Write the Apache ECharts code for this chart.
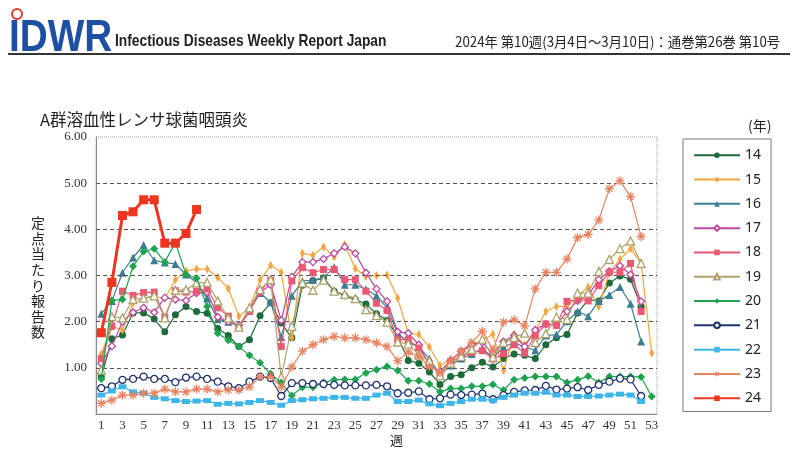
<!DOCTYPE html>
<html>
<head>
<meta charset="utf-8">
<script src="https://cdn.jsdelivr.net/npm/echarts@6/dist/echarts.min.js"></script>
<style>
  html, body { margin: 0; padding: 0; background: #fff; }
  #chart { width: 800px; height: 452px; }
</style>
</head>
<body>
<div id="chart"></div>
<script>
// week labels (x axis)
var weeks = ['1','2','3','4','5','6','7','8','9','10','11','12','13','14','15','16','17','18','19','20',
  '21','22','23','24','25','26','27','28','29','30','31','32','33','34','35','36','37','38','39','40',
  '41','42','43','44','45','46','47','48','49','50','51','52','53'];

// per-year values, reports per sentinel
var y14 = [0.80,1.63,1.71,2.19,2.19,2.06,1.78,2.15,2.33,2.22, 2.18,1.85,1.70,1.46,1.61,2.13,2.41,1.97,1.65,2.79,
  2.89,2.95,2.66,2.56,2.48,2.38,2.17,2.03,1.68,1.16, 1.10,0.91,0.64,0.81,0.85,1.00,1.12,1.02,1.20,1.30,
  1.27,1.20,1.50,1.65,1.72,2.19,2.48,2.45,2.84,2.99, 2.92,2.33];
var y15 = [1.30,1.90,1.82,2.40,2.50,2.55,2.50,2.91,3.10,3.14, 3.14,2.96,2.72,2.12,2.30,2.90,3.22,3.07,1.65,3.48,
  3.44,3.62,3.40,3.67,3.15,2.98,3.00,3.01,2.51,1.75, 1.72,1.45,1.05,1.18,1.33,1.50,1.60,1.73,0.94,1.73,
  1.50,1.80,2.22,2.33,2.33,2.55,2.75,2.33,3.06,3.35, 3.58,3.27,1.32];
var y16 = [2.17,2.45,3.06,3.39,3.66,3.33,3.28,3.25,3.02,2.85, 2.50,2.05,2.00,1.90,2.25,2.62,2.42,1.67,2.56,2.88,
  2.90,2.95,3.18,2.80,2.80,2.70,2.56,2.30,1.75,1.55, 1.45,1.20,0.85,1.05,1.20,1.30,1.42,1.22,1.45,1.55,
  1.45,1.38,1.70,1.72,2.01,2.22,2.12,2.45,2.58,2.75, 2.39,1.57];
var y17 = [1.10,1.47,2.00,2.20,2.30,2.20,2.52,2.48,2.46,2.62, 2.64,2.10,2.00,1.92,2.25,2.63,2.80,2.03,2.97,3.29,
  3.29,3.36,3.48,3.62,3.48,3.06,2.71,2.44,1.78,1.75, 1.50,1.05,0.92,1.16,1.36,1.50,1.55,1.30,1.57,1.70,
  1.46,1.82,1.95,1.93,2.22,2.45,2.57,2.91,3.09,3.21, 3.02,2.44];
var y18 = [1.20,1.90,2.66,2.57,2.63,2.64,2.10,2.67,2.64,2.66, 2.71,2.30,2.12,1.87,2.22,2.66,2.90,1.46,2.88,3.17,
  3.06,3.13,3.13,2.91,2.91,2.66,2.40,2.24,1.61,1.61, 1.43,1.08,0.88,1.14,1.25,1.33,1.37,1.19,1.31,1.50,
  1.32,1.70,1.95,1.92,2.44,2.48,2.45,2.78,3.07,3.07, 3.26,2.22];
var y19 = [0.95,2.11,2.08,2.48,2.51,2.56,2.08,2.68,2.69,2.84, 2.85,2.45,2.08,1.88,2.30,2.70,2.91,0.80,1.90,2.84,
  2.68,2.90,2.66,2.59,2.50,2.26,2.13,1.99,1.56,1.52, 1.28,1.15,0.83,1.10,1.25,1.40,1.62,1.23,1.55,1.66,
  1.75,1.55,1.74,2.10,2.05,2.62,2.62,3.09,3.35,3.58, 3.75,3.26];
var y20 = [0.76,2.46,2.48,3.20,3.52,3.58,3.29,3.72,3.02,2.94, 2.33,1.75,1.60,1.46,1.27,1.11,0.87,0.68,0.40,0.58,
  0.58,0.68,0.74,0.75,0.75,0.89,0.96,1.03,0.94,0.72, 0.72,0.65,0.48,0.55,0.55,0.60,0.60,0.64,0.52,0.74,
  0.78,0.81,0.81,0.81,0.68,0.74,0.82,0.68,0.81,0.81, 0.81,0.80,0.38];
var y21 = [0.56,0.60,0.74,0.76,0.81,0.76,0.76,0.69,0.79,0.81, 0.76,0.70,0.60,0.56,0.70,0.81,0.78,0.39,0.67,0.67,
  0.65,0.65,0.63,0.62,0.62,0.62,0.63,0.60,0.45,0.46, 0.49,0.32,0.34,0.42,0.41,0.42,0.44,0.32,0.41,0.48,
  0.51,0.52,0.61,0.53,0.55,0.58,0.52,0.63,0.70,0.77, 0.75,0.39];
var y22 = [0.41,0.50,0.59,0.48,0.45,0.36,0.33,0.29,0.27,0.28, 0.29,0.21,0.23,0.22,0.25,0.29,0.25,0.19,0.29,0.31,
  0.33,0.34,0.36,0.36,0.34,0.34,0.41,0.45,0.27,0.27, 0.30,0.22,0.18,0.23,0.27,0.32,0.32,0.29,0.36,0.41,
  0.45,0.45,0.47,0.41,0.41,0.38,0.38,0.39,0.41,0.43, 0.41,0.27];
var y23 = [0.23,0.30,0.41,0.41,0.45,0.45,0.54,0.48,0.48,0.54, 0.54,0.48,0.52,0.52,0.59,0.81,0.81,0.59,1.02,1.36,
  1.50,1.61,1.68,1.65,1.65,1.61,1.54,1.46,1.15,1.34, 1.25,1.03,0.90,1.14,1.36,1.55,1.79,1.39,1.99,2.04,
  1.91,2.71,3.07,3.07,3.36,3.82,3.89,4.20,4.88,5.05, 4.71,3.84];
var y24 = [1.76,2.85,4.30,4.38,4.64,4.64,3.70,3.70,3.91,4.43];

var gridLevels = [1, 2, 3, 4, 5];

var star = 'path://M-0.7,-5H0.7V5H-0.7Z M-5,-0.7H5V0.7H-5Z M-3.04,-4.03L4.03,3.04L3.04,4.03L-4.03,-3.04Z M4.03,-3.04L-3.04,4.03L-4.03,3.04L3.04,-4.03Z';

var styles = [
  { name: '14', data: y14, color: '#1d6a3b', symbol: 'circle',   size: 7 },
  { name: '15', data: y15, color: '#f2a541', symbol: 'diamond',  size: [5, 9] },
  { name: '16', data: y16, color: '#3d7d93', symbol: 'triangle', size: 8 },
  { name: '17', data: y17, color: '#b8479d', symbol: 'diamond',  size: 7, open: true },
  { name: '18', data: y18, color: '#ea5873', symbol: 'rect',     size: 7 },
  { name: '19', data: y19, color: '#ada26b', symbol: 'triangle', size: 8, open: true },
  { name: '20', data: y20, color: '#1ea34f', symbol: 'diamond',  size: 8 },
  { name: '21', data: y21, color: '#1f3270', symbol: 'circle',   size: 7, open: true },
  { name: '22', data: y22, color: '#3db5e8', symbol: 'rect',     size: [8, 5] },
  { name: '23', data: y23, color: '#e9825f', symbol: star,       size: 9 },
  { name: '24', data: y24, color: '#ee3520', symbol: 'rect',     size: 9, width: 3 }
];

var series = styles.map(function (s, i) {
  var item = {
    name: s.name,
    type: 'line',
    data: s.data,
    symbol: s.symbol,
    symbolSize: s.size,
    showAllSymbol: true,
    z: 2 + i,
    lineStyle: { color: s.color, width: s.width || 1.2 },
    itemStyle: s.open
      ? { color: '#fff', borderColor: s.color, borderWidth: 1.3 }
      : { color: s.color, borderColor: s.color, borderWidth: 0 }
  };
  if (i === 0) {
    item.markLine = {
      silent: true,
      symbol: 'none',
      label: { show: false },
      lineStyle: { color: '#555', type: [4, 3], width: 1 },
      data: gridLevels.map(function (v) { return { yAxis: v }; })
    };
  }
  return item;
});

var chart = echarts.init(document.getElementById('chart'), null, { renderer: 'canvas' });

chart.setOption({
  animation: false,
  backgroundColor: '#fff',
  grid: {
    left: 96, right: 143, top: 137, bottom: 38,
    show: true, borderColor: '#999', borderWidth: 1, borderType: 'dotted'
  },
  xAxis: {
    type: 'category',
    data: weeks,
    boundaryGap: true,
    axisLine: { lineStyle: { color: '#888', width: 1 } },
    axisTick: { alignWithLabel: true, interval: 0, length: 5, lineStyle: { color: '#888' } },
    axisLabel: { interval: 1, margin: 5, color: '#333', fontFamily: 'Liberation Serif', fontSize: 13 },
    splitLine: { show: false }
  },
  yAxis: {
    type: 'value',
    min: 0, max: 6, interval: 1,
    axisLine: { show: true, lineStyle: { color: '#888', width: 1 } },
    axisTick: { show: false },
    axisLabel: {
      margin: 9, color: '#333', fontFamily: 'Liberation Serif', fontSize: 13,
      formatter: function (v) { return v === 0 ? '' : v.toFixed(2); }
    },
    splitLine: { show: false }
  },
  legend: {
    orient: 'vertical',
    left: 683, top: 139,
    padding: [9, 10, 6, 10],
    itemWidth: 46, itemHeight: 7, itemGap: 9.8,
    borderColor: '#777', borderWidth: 1,
    textStyle: { fontFamily: 'Noto Sans', fontSize: 14, color: '#222', lineHeight: 14.5 },
    data: styles.map(function (s) { return s.name; })
  },
  graphic: [
    { type: 'text', left: 9, top: 16, scaleX: 0.86, originX: 9,
      style: { text: 'IDWR', fill: '#1d4fa3', font: 'bold 45px "Liberation Sans"' } },
    { type: 'circle', shape: { cx: 17, cy: 14, r: 5 },
      style: { fill: 'none', stroke: '#e03a2a', lineWidth: 2 } },
    { type: 'text', x: 115, y: 33, scaleX: 0.81,
      style: { text: 'Infectious Diseases Weekly Report Japan', fill: '#222', font: 'bold 17px "Liberation Sans"' } },
    { type: 'text', x: 455, y: 35, scaleX: 0.95,
      style: { text: '2024年 第10週(3月4日～3月10日)：通巻第26巻 第10号', fill: '#222', font: '14px "Noto Sans CJK JP"' } },
    { type: 'line', shape: { x1: 8, y1: 54, x2: 790, y2: 54 },
      style: { stroke: '#333', lineWidth: 2 } },
    { type: 'text', x: 40, y: 111,
      style: { text: 'A群溶血性レンサ球菌咽頭炎', fill: '#222', font: '16.5px "Noto Sans CJK JP"' } },
    { type: 'text', x: 748, y: 119,
      style: { text: '(年)', fill: '#222', font: '14px "Noto Sans CJK JP"' } },
    { type: 'text', x: 31, y: 215,
      style: { text: '定\n点\n当\nた\nり\n報\n告\n数', fill: '#222', font: '14px "Noto Sans CJK JP"', lineHeight: 15.6 } },
    { type: 'text', x: 390, y: 434,
      style: { text: '週', fill: '#222', font: '13px "Noto Sans CJK JP"' } }
  ],
  series: series
});
</script>
</body>
</html>
